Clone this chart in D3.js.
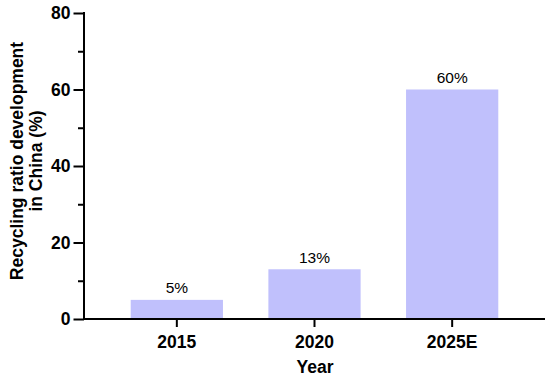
<!DOCTYPE html>
<html><head><meta charset="utf-8">
<script src="https://cdn.jsdelivr.net/npm/d3@7"></script>
<style>body{margin:0;background:#fff}</style>
</head><body>
<script>
const categories = ["2015", "2020", "2025E"];
const values = [5, 13, 60];
const valueLabels = ["5%", "13%", "60%"];
const yTicks = [0, 20, 40, 60, 80];
const yMinorTicks = [10, 30, 50, 70];

const W = 550, H = 382;
const svg = d3.select("body").append("svg").attr("width", W).attr("height", H);
const font = "Arial, 'Liberation Sans', sans-serif";

const x = d3.scaleBand().domain(categories).range([108, 521]).paddingInner(0.33).paddingOuter(0.165);
const y = d3.scaleLinear().domain([0, 80]).range([319, 13]);

svg.selectAll("rect.bar").data(values).join("rect")
  .attr("class", "bar")
  .attr("x", (d, i) => x(categories[i]))
  .attr("width", x.bandwidth())
  .attr("y", d => y(d))
  .attr("height", d => y(0) - y(d))
  .attr("fill", "#c0c0fc");

svg.selectAll("text.val").data(values).join("text")
  .attr("class", "val")
  .attr("x", (d, i) => x(categories[i]) + x.bandwidth() / 2)
  .attr("y", d => y(d) - 6.5)
  .attr("text-anchor", "middle")
  .attr("font-family", font).attr("font-size", 15.5)
  .text((d, i) => valueLabels[i]);

// Y axis
const yAxis = d3.axisLeft(y).tickValues(yTicks).tickSize(10.5).tickSizeOuter(0).tickPadding(3);
const gy = svg.append("g").attr("transform", "translate(84,0)").call(yAxis);
gy.select(".domain").attr("stroke-width", 2).attr("d", `M0,${y(80) - 1}V${y(0)}`);
gy.selectAll(".tick line").attr("stroke-width", 2);
gy.selectAll(".tick text").attr("font-family", font).attr("font-size", 17.5).attr("font-weight", "bold").attr("fill", "#000");
const gyMinor = svg.append("g").attr("transform", "translate(84,0)")
  .call(d3.axisLeft(y).tickValues(yMinorTicks).tickSize(6).tickFormat(""));
gyMinor.select(".domain").remove();
gyMinor.selectAll(".tick line").attr("stroke-width", 2);

// X axis
const xAxis = d3.axisBottom(x).tickSize(8).tickSizeOuter(0).tickPadding(8.5);
const gx = svg.append("g").attr("transform", `translate(0,${y(0)})`).call(xAxis);
gx.select(".domain").attr("stroke-width", 2).attr("d", "M83,0H545");
gx.selectAll(".tick line").attr("stroke-width", 2);
gx.selectAll(".tick text").attr("font-family", font).attr("font-size", 17.5).attr("font-weight", "bold").attr("fill", "#000");

svg.append("text").attr("x", 315).attr("y", 373).attr("text-anchor", "middle")
  .attr("font-family", font).attr("font-size", 17.5).attr("font-weight", "bold").text("Year");

const yl = svg.append("text").attr("transform", "translate(0,161) rotate(-90)")
  .attr("text-anchor", "middle").attr("font-family", font).attr("font-size", 17.5).attr("font-weight", "bold");
yl.append("tspan").attr("x", 0).attr("y", 23).text("Recycling ratio development");
yl.append("tspan").attr("x", 0).attr("y", 42).text("in China (%)");
</script>
</body></html>
